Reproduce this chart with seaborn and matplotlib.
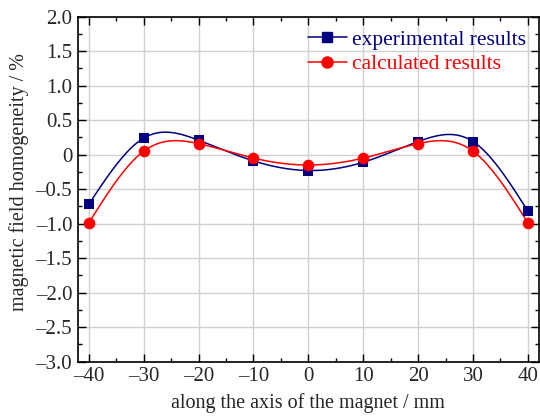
import numpy as np
import pandas as pd
import matplotlib
matplotlib.use("Agg")
import matplotlib.pyplot as plt
import seaborn as sns
from matplotlib.lines import Line2D
from matplotlib.ticker import MultipleLocator, FuncFormatter

# positions along the magnet axis (mm)
position = [-40, -30, -20, -10, 0, 10, 20, 30, 40]
# field homogeneity (%)
experimental = [-0.72, 0.24, 0.21, -0.09, -0.23, -0.11, 0.19, 0.19, -0.82]
calculated = [-0.99, 0.05, 0.16, -0.05, -0.15, -0.05, 0.16, 0.05, -0.99]


def natural_spline(x, y, n=400):
    # natural cubic spline through the points, for the smooth connecting line
    x = np.asarray(x, float)
    y = np.asarray(y, float)
    k = len(x)
    h = np.diff(x)
    A = np.zeros((k, k))
    r = np.zeros(k)
    A[0, 0] = A[-1, -1] = 1
    for i in range(1, k - 1):
        A[i, i - 1] = h[i - 1]
        A[i, i] = 2 * (h[i - 1] + h[i])
        A[i, i + 1] = h[i]
        r[i] = 6 * ((y[i + 1] - y[i]) / h[i] - (y[i] - y[i - 1]) / h[i - 1])
    m = np.linalg.solve(A, r)
    xs = np.linspace(x[0], x[-1], n)
    idx = np.clip(np.searchsorted(x, xs) - 1, 0, k - 2)
    t0 = xs - x[idx]
    t1 = x[idx + 1] - xs
    hi = h[idx]
    ys = (m[idx] * t1**3 / (6 * hi) + m[idx + 1] * t0**3 / (6 * hi)
          + (y[idx] / hi - m[idx] * hi / 6) * t1
          + (y[idx + 1] / hi - m[idx + 1] * hi / 6) * t0)
    return xs, ys


sns.set_style("ticks")
plt.rcParams['font.family'] = ['Liberation Serif', 'DejaVu Serif']

fig = plt.figure(figsize=(5.4, 4.18), dpi=100)
ax = fig.add_axes([0.144, 0.135, 0.854, 0.825])

exp_color = '#000080'
calc_color = '#ff0000'

xs, ys = natural_spline(position, experimental)
sns.lineplot(x=xs, y=ys, ax=ax, color=exp_color, linewidth=1.1, zorder=3)
xs, ys = natural_spline(position, calculated)
sns.lineplot(x=xs, y=ys, ax=ax, color=calc_color, linewidth=1.1, zorder=3)

pts = pd.DataFrame({'x': position, 'exp': experimental, 'calc': calculated})
sns.scatterplot(data=pts, x='x', y='exp', ax=ax, marker='s', s=55,
                color=exp_color, edgecolor=exp_color, linewidth=0, zorder=4)
sns.scatterplot(data=pts, x='x', y='calc', ax=ax, marker='o', s=70,
                color=calc_color, edgecolor=calc_color, linewidth=0, zorder=5)

ax.set_xlim(-42, 42)
ax.set_ylim(-3.0, 2.0)
ax.xaxis.set_major_locator(MultipleLocator(10))
ax.xaxis.set_minor_locator(MultipleLocator(5))
ax.yaxis.set_major_locator(MultipleLocator(0.5))
ax.yaxis.set_minor_locator(MultipleLocator(0.25))


def fmt_x(v, pos):
    return ('\u2013%d' % abs(round(v))) if v < 0 else '%d' % round(v)


def fmt_y(v, pos):
    if abs(v) < 1e-9:
        return '0'
    return ('\u2013%.1f' % abs(v)) if v < 0 else '%.1f' % v


ax.xaxis.set_major_formatter(FuncFormatter(fmt_x))
ax.yaxis.set_major_formatter(FuncFormatter(fmt_y))
ax.tick_params(which='both', direction='in', top=True, right=True,
               labelsize=15, color='black', pad=4)
ax.tick_params(which='major', length=6, width=1)
ax.tick_params(which='minor', length=3, width=1)
ax.grid(True, which='major', color='#d0d0d0', linewidth=1)
ax.set_axisbelow(True)
for sp in ax.spines.values():
    sp.set_visible(True)
    sp.set_color('black')
    sp.set_linewidth(1.2)

ax.set_xlabel('along the axis of the magnet / mm', fontsize=14.5, labelpad=5)
ax.set_ylabel('magnetic field homogeneity / %', fontsize=14.5, labelpad=5)
ax.yaxis.label.set_y(0.52)

handles = [
    Line2D([], [], color=exp_color, marker='s', markersize=7, linewidth=1.1),
    Line2D([], [], color=calc_color, marker='o', markersize=8, linewidth=1.1),
]
leg = ax.legend(handles, ['experimental results', 'calculated results'],
                loc='upper right', frameon=False, fontsize=15.5,
                handlelength=1.8, handletextpad=0.25, labelspacing=0.2,
                borderaxespad=0.2)
for txt, c in zip(leg.get_texts(), [exp_color, calc_color]):
    txt.set_color(c)

fig.savefig('out.png', dpi=100)
